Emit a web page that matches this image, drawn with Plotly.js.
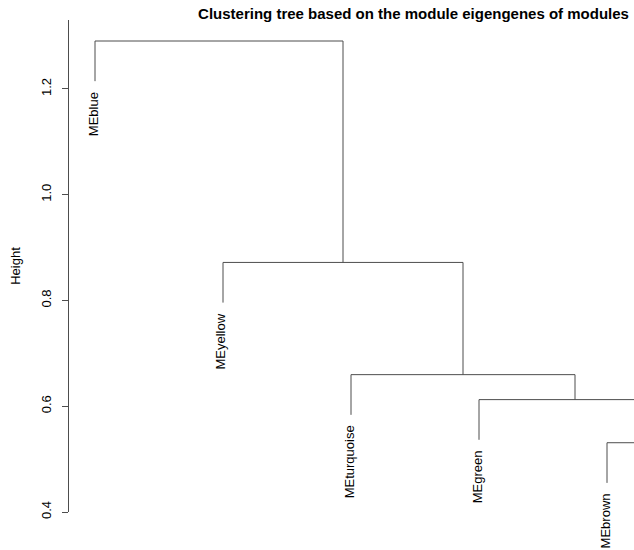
<!DOCTYPE html>
<html>
<head>
<meta charset="utf-8">
<script src="https://cdn.plot.ly/plotly-3.0.1.min.js"></script>
<style>html,body{margin:0;padding:0;background:#fff;}#chart{width:634px;height:550px;}</style>
</head>
<body>
<div id="chart"></div>
<script>
// Leaves in dendrogram order (the 6th leaf's label is cut off in the reference)
var leafLabels = ["MEblue", "MEyellow", "MEturquoise", "MEgreen", "MEbrown", ""];
// R-style merge matrix: negative = leaf index (1-based, in leaf order), positive = earlier merge
var mergeLeft  = [-5, -4, -3, -2, -1];
var mergeRight = [-6,  1,  2,  3,  4];
var mergeHeights = [0.531, 0.6125, 0.6597, 0.8719, 1.2906];
var yTicks = [0.4, 0.6, 0.8, 1.0, 1.2];
var yTickText = ["0.4", "0.6", "0.8", "1.0", "1.2"];

var lineColor = "#4d4d4d";
var hang = 0.1 * (Math.max.apply(null, mergeHeights) - Math.min.apply(null, mergeHeights));

// compute node positions
var leafParentHeight = {};
var nodeX = [];
function childX(c) { return c < 0 ? -c : nodeX[c - 1]; }
var xs = [], ys = [];
for (var i = 0; i < mergeHeights.length; i++) {
  var a = mergeLeft[i], b = mergeRight[i], h = mergeHeights[i];
  var xa = childX(a), xb = childX(b);
  var ya = a < 0 ? h - hang : mergeHeights[a - 1];
  var yb = b < 0 ? h - hang : mergeHeights[b - 1];
  if (a < 0) leafParentHeight[-a] = h;
  if (b < 0) leafParentHeight[-b] = h;
  xs.push(xa, xa, xb, xb, null);
  ys.push(ya, h, h, yb, null);
  nodeX.push((xa + xb) / 2);
}

var trace = {
  x: xs, y: ys, type: "scatter", mode: "lines",
  line: {color: lineColor, width: 1}, hoverinfo: "skip", connectgaps: false
};

var annotations = [];
for (var k = 1; k <= leafLabels.length; k++) {
  if (!leafLabels[k - 1]) continue;
  annotations.push({
    x: k, y: leafParentHeight[k] - hang, xref: "x", yref: "y",
    text: leafLabels[k - 1], showarrow: false, textangle: -90,
    xanchor: "center", yanchor: "top", yshift: -9, xshift: -2,
    font: {family: "Liberation Sans, Arial, sans-serif", size: 13, color: "#000"}
  });
}

var layout = {
  width: 634, height: 550,
  margin: {l: 69, r: 0, t: 20, b: 37.5, pad: 0},
  paper_bgcolor: "#fff", plot_bgcolor: "#fff",
  showlegend: false,
  font: {family: "Liberation Sans, Arial, sans-serif", size: 13, color: "#000"},
  title: {
    text: "<b>Clustering tree based on the module eigengenes of modules</b>",
    font: {family: "Liberation Sans, Arial, sans-serif", size: 15, color: "#000"},
    xref: "container", yref: "container", x: 413.5 / 634, xanchor: "center",
    y: 1 - 14 / 550, yanchor: "middle"
  },
  xaxis: {
    range: [1 - 26 / 128, 1 - 26 / 128 + 565 / 128],
    showgrid: false, zeroline: false, showline: false, showticklabels: false, ticks: ""
  },
  yaxis: {
    range: [0.4, 1.3303],
    showgrid: false, zeroline: false, showline: true, linecolor: lineColor, linewidth: 1,
    ticks: "outside", ticklen: 6, tickcolor: lineColor, tickwidth: 1,
    tickvals: yTicks, ticktext: yTickText, tickangle: -90, ticklabelstandoff: 6,
    tickfont: {family: "Liberation Sans, Arial, sans-serif", size: 13, color: "#000"},
    title: {text: "Height", standoff: 15,
      font: {family: "Liberation Sans, Arial, sans-serif", size: 13, color: "#000"}}
  },
  annotations: annotations
};

Plotly.newPlot("chart", [trace], layout, {staticPlot: true, displayModeBar: false});
</script>
</body>
</html>
